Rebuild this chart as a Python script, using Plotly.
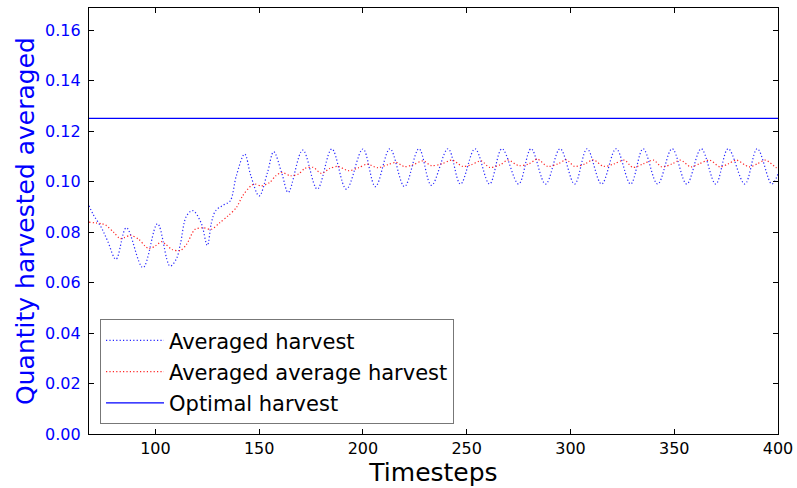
import plotly.graph_objects as go

# Averaged harvest per timestep (key points along the oscillating trace)
harvest_t = [68, 70, 74, 77, 81, 86, 94, 101, 107, 110, 112, 115, 118, 122, 125,
             127, 129, 133, 136, 139, 143, 146, 150, 154, 157, 161, 164, 171, 178,
             185, 192, 200, 206, 213, 220, 227, 233, 241, 247, 254, 261, 267, 275,
             281, 288, 295, 302, 308, 315, 322, 329, 335, 342, 349, 356, 363, 370,
             376, 384, 390, 397, 400]
harvest_v = [0.0904, 0.0870, 0.0817, 0.0764, 0.0692, 0.0817, 0.0659, 0.0833, 0.0665,
             0.0692, 0.0751, 0.0864, 0.0885, 0.0837, 0.0747, 0.0837, 0.0884, 0.0908,
             0.0923, 0.1023, 0.1109, 0.1023, 0.0943, 0.1036, 0.1118, 0.1030, 0.0957,
             0.1125, 0.0970, 0.1129, 0.0970, 0.1129, 0.0980, 0.1130, 0.0980, 0.1130,
             0.0985, 0.1130, 0.0990, 0.1130, 0.0990, 0.1130, 0.0990, 0.1130, 0.0990,
             0.1130, 0.0990, 0.1130, 0.0990, 0.1130, 0.0990, 0.1130, 0.0990, 0.1130,
             0.0990, 0.1130, 0.0990, 0.1130, 0.0990, 0.1130, 0.0990, 0.1030]

# Running average of the averaged harvest
avg_t = [68, 74, 76, 80, 83, 85, 88, 92, 95, 97, 100, 103, 105, 108, 112, 115, 119,
         123, 127, 131, 135, 139, 142, 146, 148, 151, 155, 158, 161, 165, 169, 172,
         176, 180, 184, 188, 193, 198, 202, 207, 212, 216, 220, 224, 229, 233, 238,
         243, 248, 252, 257, 261, 266, 270, 275, 280, 284, 289, 294, 298, 302, 307,
         311, 316, 321, 326, 330, 335, 340, 344, 349, 353, 358, 362, 367, 372, 376,
         380, 386, 390, 394, 399, 400]
avg_v = [0.0839, 0.0833, 0.0828, 0.0798, 0.0774, 0.0778, 0.0787, 0.0771, 0.0745,
         0.0734, 0.0745, 0.0762, 0.0751, 0.0731, 0.0727, 0.0751, 0.0810, 0.0817,
         0.0811, 0.0837, 0.0864, 0.0897, 0.0943, 0.0983, 0.0990, 0.0983, 0.0996,
         0.1023, 0.1036, 0.1023, 0.1030, 0.1052, 0.1056, 0.1032, 0.1052, 0.1060,
         0.1043, 0.1055, 0.1069, 0.1055, 0.1067, 0.1076, 0.1059, 0.1066, 0.1082,
         0.1063, 0.1070, 0.1085, 0.1060, 0.1066, 0.1082, 0.1056, 0.1066, 0.1085,
         0.1063, 0.1070, 0.1089, 0.1060, 0.1070, 0.1086, 0.1060, 0.1070, 0.1086,
         0.1060, 0.1070, 0.1085, 0.1056, 0.1070, 0.1085, 0.1058, 0.1070, 0.1085,
         0.1058, 0.1070, 0.1085, 0.1058, 0.1070, 0.1085, 0.1058, 0.1070, 0.1085,
         0.1056, 0.1052]

optimal_value = 0.125
x_range = [68, 400]
x_ticks = [100, 150, 200, 250, 300, 350, 400]
y_max = 0.16875

font = "DejaVu Sans"

fig = go.Figure()
fig.add_trace(go.Scatter(
    x=harvest_t, y=harvest_v, mode="lines", name="Averaged harvest", legendgroup="a",
    line=dict(color="#0000ff", width=1.2, dash="1.2px,2.2px", shape="spline", smoothing=1),
    opacity=0.85,
))
fig.add_trace(go.Scatter(
    x=avg_t, y=avg_v, mode="lines", name="Averaged average harvest", legendgroup="b",
    line=dict(color="#ff0000", width=1.2, dash="1.2px,2.2px", shape="spline", smoothing=0.8),
    opacity=0.85,
))
fig.add_trace(go.Scatter(
    x=x_range, y=[optimal_value, optimal_value], mode="lines", name="Optimal harvest",
    legendgroup="c",
    line=dict(color="#0000ff", width=1.2),
))

fig.update_layout(
    width=797, height=488,
    margin=dict(l=89, r=19, t=8, b=54, autoexpand=False),
    paper_bgcolor="white", plot_bgcolor="white",
    font=dict(family=font, color="black"),
    showlegend=True,
    legend=dict(
        x=0.016, y=0.023, xanchor="left", yanchor="bottom",
        bgcolor="white", bordercolor="#777777", borderwidth=1,
        font=dict(size=21, color="black"),
        itemwidth=58, tracegroupgap=1, traceorder="grouped",
    ),
    xaxis=dict(
        range=x_range, tickvals=x_ticks, automargin=False,
        showgrid=False, zeroline=False,
        showline=True, linecolor="black", linewidth=1.2, mirror="ticks",
        ticks="inside", ticklen=5, tickcolor="black",
        tickfont=dict(size=16, color="black"),
        title=dict(text="Timesteps", font=dict(size=25, color="black"), standoff=4),
    ),
    yaxis=dict(
        range=[0, y_max], dtick=0.02, tickformat=".2f", automargin=False,
        showgrid=False, zeroline=False,
        showline=True, linecolor="black", linewidth=1.2, mirror="ticks",
        ticks="inside", ticklen=5, tickcolor="black",
        tickfont=dict(size=16, color="#0000ff"),
        ticklabelstandoff=4,
        title=dict(text="Quantity harvested averaged", font=dict(size=25, color="#0000ff"), standoff=3),
    ),
)

fig.write_html("out.html")
